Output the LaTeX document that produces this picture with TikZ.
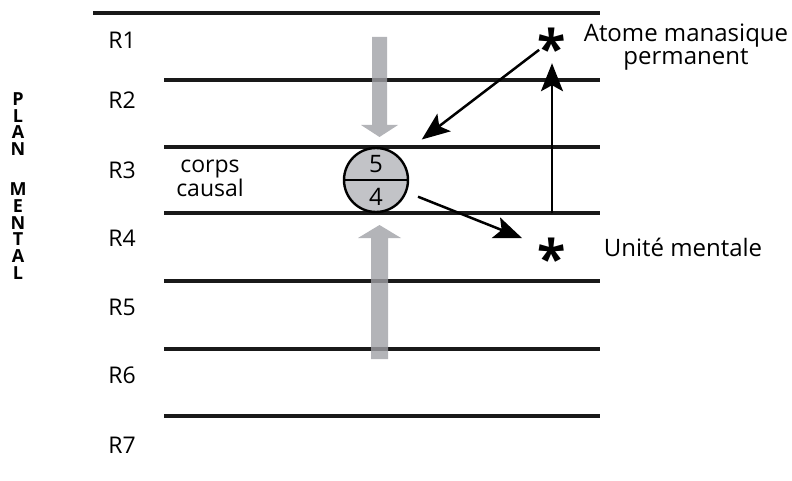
\documentclass[tikz,border=0pt]{standalone}
\usepackage{fontspec}
\setmainfont{Open Sans}
\usetikzlibrary{arrows.meta,positioning}
\definecolor{flowgrey}{RGB}{160,161,166}
\definecolor{causalgrey}{RGB}{194,195,199}
\tikzset{
    %Define standard arrow tip
    >={Stealth[length=28pt,width=22pt,inset=6pt]},
    %Define style for the level lines
    level/.style={
           line width=3.4pt,
           draw=black!90},
    %Define style for the labels
    label text/.style={
           font=\fontsize{23}{17}\selectfont,
           inner sep=0pt},
    %Define style for the stars
    star/.style={
           circle,
           minimum size=20pt,
           inner sep=0pt},
    % Define arrow style
    arrow/.style={
           ->,
           line width=2.5pt},
    % Define style for the grey arrows
    flow/.style={
           fill=flowgrey,
           fill opacity=0.8,
           draw=none},
    % Define style for the vertical title
    plan text/.style={
           font=\fontsize{18}{16.7}\selectfont\bfseries,
           align=center,
           inner sep=0pt}
}

\newcommand{\starglyph}{\makebox[0pt]{\smash{\raisebox{-28pt}{\fontsize{52}{52}\selectfont\bfseries *}}}}

\begin{document}
\begin{tikzpicture}[x=1pt, y=-1pt]
    \useasboundingbox (0,0) rectangle (792,481);

    % levels
    \draw[level] (93,13) -- (600,13);
    \foreach \y in {80,147,213,281,349,416}
        \draw[level] (164,\y) -- (600,\y);

    % region labels
    \foreach \n/\y in {1/40,2/100,3/170,4/238,5/307,6/375,7/445}
        \node[label text] (R\n) at (122,\y) {R\n};
    \node[label text, align=center] (corps) at (210,178) {corps\\causal};

    % plan mental
    \node[plan text] (plan) at (18,124) {P\\L\\A\\N};
    \node[plan text] (mental) at (18,231) {M\\E\\N\\T\\A\\L};

    % grey arrows
    \path[flow] (372,37) -- (387,37) -- (387,125) -- (398,125) -- (379.5,137)
        -- (361,125) -- (372,125) -- cycle;
    \path[flow] (371,359) -- (388,359) -- (388,238) -- (401,238) -- (379.5,225)
        -- (358,238) -- (371,238) -- cycle;

    % causal body
    \node[circle, draw, line width=2.4pt, fill=causalgrey, minimum size=64pt, inner sep=0pt] (causal) at (376,180) {};
    \draw[line width=2.4pt] (causal.west) -- (causal.east);
    \node[font=\fontsize{24}{24}\selectfont] (five) at (376,164) {5};
    \node[font=\fontsize{24}{24}\selectfont] (four) at (376,197) {4};

    % stars and texts
    \node[star] (star1) at (552,40) {\starglyph};
    \node[star] (star2) at (552,250) {\starglyph};
    \node[label text, align=center, font=\fontsize{24}{21}\selectfont] (atome) at (686,47) {Atome manasique\\permanent};
    \node[label text, font=\fontsize{24}{21}\selectfont] (unite) at (683,247) {Unité mentale};
    \coordinate (base) at (552,213);

    \path (star1) edge[arrow, shorten <=6pt, shorten >=28pt] (causal.north east);
    \path (base) edge[arrow, shorten >=13pt] (star1);
    \path (causal) edge[arrow, shorten <=12pt, shorten >=22pt] (star2);
\end{tikzpicture}
\end{document}
